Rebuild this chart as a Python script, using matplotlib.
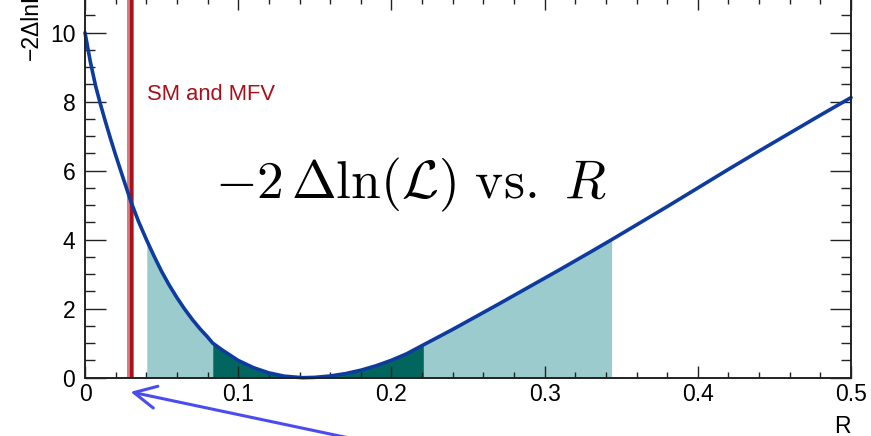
import matplotlib
matplotlib.use("Agg")
import numpy as np
from matplotlib import pyplot as plt
from matplotlib.ticker import MultipleLocator, FormatStrFormatter

"""
Profile likelihood scan of R, with the 1 and 2 sigma intervals shaded
and the SM / MFV expectation marked as a vertical band.
"""

# scan of -2 Delta ln(L) versus R
r_scan = [0.0, 0.0035, 0.007, 0.010, 0.013, 0.0165, 0.020, 0.025, 0.030,
          0.035, 0.0403, 0.045, 0.050, 0.055, 0.060, 0.065, 0.070, 0.075,
          0.080, 0.0834, 0.090, 0.100, 0.110, 0.120, 0.130, 0.142,
          0.150, 0.160, 0.170, 0.180, 0.190, 0.200, 0.210, 0.2208,
          0.230, 0.240, 0.250, 0.260, 0.270, 0.280, 0.290, 0.300,
          0.310, 0.320, 0.330, 0.3437, 0.360, 0.380, 0.400, 0.420,
          0.440, 0.460, 0.480, 0.500]
nll_scan = [10.0, 9.15, 8.44, 7.94, 7.47, 6.95, 6.45, 5.77, 5.10,
            4.52, 3.98, 3.53, 3.08, 2.68, 2.32, 1.99, 1.69, 1.42,
            1.18, 1.0, 0.79, 0.50, 0.29, 0.14, 0.045, 0.0,
            0.01, 0.05, 0.118, 0.217, 0.346, 0.505, 0.694, 0.95,
            1.165, 1.40, 1.645, 1.89, 2.135, 2.385, 2.635, 2.885,
            3.135, 3.39, 3.645, 4.0, 4.43, 4.96, 5.50, 6.04,
            6.57, 7.09, 7.61, 8.12]

# interval edges
one_sigma = (0.0834, 0.2208)
two_sigma = (0.0403, 0.3437)

# SM and MFV prediction
sm_r = 0.0297
sm_err = 0.0024

plt.rcParams["font.family"] = ["Liberation Sans", "DejaVu Sans"]
plt.rcParams["mathtext.fontset"] = "cm"
plt.rcParams["xtick.direction"] = "in"
plt.rcParams["ytick.direction"] = "in"

fig = plt.figure(figsize=(8.71, 4.36), dpi=100)
ax = fig.add_axes([0.0976, 0.1337, 0.8795, 0.8705])

r = np.array(r_scan)
nll = np.array(nll_scan)

in2 = (r >= two_sigma[0]) & (r <= two_sigma[1])
in1 = (r >= one_sigma[0]) & (r <= one_sigma[1])
ax.fill_between(r[in2], 0, nll[in2], color="#9ccbcd", lw=0)
ax.fill_between(r[in1], 0, nll[in1], color="#02665e", lw=0)

ax.axvspan(sm_r - sm_err, sm_r + sm_err, color="#d97b7e", lw=0)
ax.axvline(sm_r, color="#a8101a", lw=2.4)

ax.plot(r, nll, color="#0d3b9e", lw=2.6, solid_capstyle="round", clip_on=False)

ax.text(0.0405, 8.05, "SM and MFV", color="#a8101a", fontsize=15.8, va="baseline")
ax.text(0.2125, 5.6, r"$-2\,\Delta\ln(\mathcal{L})\ \mathrm{vs.}\ R$",
        fontsize=38.6, ha="center", va="center")

ax.annotate("", xy=(sm_r, -0.41), xytext=(0.178, -1.8),
            arrowprops=dict(arrowstyle="->, head_length=0.8, head_width=0.4",
                            color="#4b4cf0", lw=2.2, mutation_scale=20,
                            shrinkA=0, shrinkB=0),
            annotation_clip=False)

ax.set_xlim(0, 0.5)
ax.set_ylim(0, 11)
ax.xaxis.set_major_locator(MultipleLocator(0.1))
ax.xaxis.set_minor_locator(MultipleLocator(0.02))
ax.yaxis.set_major_locator(MultipleLocator(2))
ax.yaxis.set_minor_locator(MultipleLocator(0.5))
ax.xaxis.set_major_formatter(FormatStrFormatter("%g"))
ax.yaxis.set_major_formatter(FormatStrFormatter("%g"))

ax.tick_params(which="both", direction="in", top=True, right=True,
               width=1.0, color="#222222", labelsize=16.5)
ax.tick_params(axis="x", which="major", length=8.6, pad=4)
ax.tick_params(axis="x", which="minor", length=4.3)
ax.tick_params(axis="y", which="major", length=15, pad=7)
ax.tick_params(axis="y", which="minor", length=7.2)
for s in ax.spines.values():
    s.set_linewidth(1.4)
    s.set_color("#222222")

ax.set_xlabel("R", fontsize=16.5, loc="right", labelpad=6)
ax.text(-0.0705, 1.027, "\u22122\u0394lnL", rotation=90, fontsize=16.5,
        ha="center", va="top", transform=ax.transAxes)

fig.savefig("out.png", dpi=100)
